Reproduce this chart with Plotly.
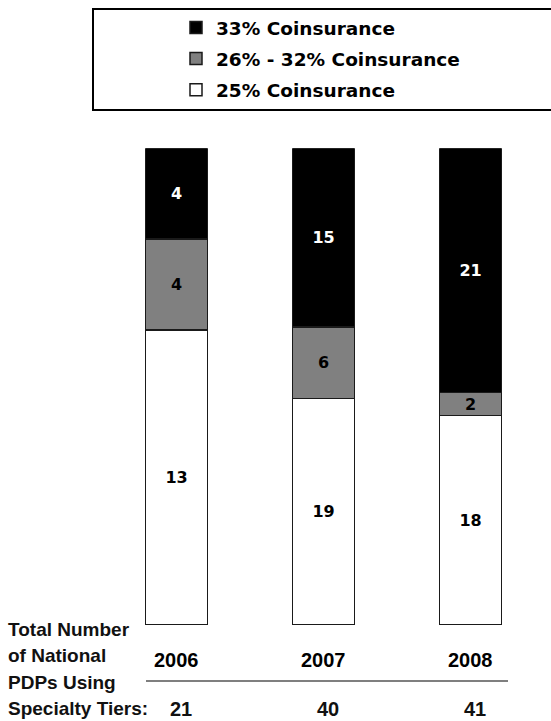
import plotly.graph_objects as go

years = ["2006", "2007", "2008"]
totals = [21, 40, 41]
series_names = ["25% Coinsurance", "26% - 32% Coinsurance", "33% Coinsurance"]
counts_25 = [13, 19, 18]
counts_26_32 = [4, 6, 2]
counts_33 = [4, 15, 21]
row_label_lines = ["Total Number", "of National", "PDPs Using", "Specialty Tiers:"]

W, H = 551, 721

def py(px):
    return (H - px) / H

def pxx(px):
    return px / W

series_counts = [counts_25, counts_26_32, counts_33]
fills = ["#ffffff", "#808080", "#000000"]
text_colors = ["#000000", "#000000", "#ffffff"]
ranks = [3, 2, 1]

fig = go.Figure()
for name, cnts, fill, tc, rk in zip(series_names, series_counts, fills, text_colors, ranks):
    shares = [c / t for c, t in zip(cnts, totals)]
    fig.add_trace(go.Bar(
        x=list(range(len(years))), y=shares, name=name, customdata=cnts,
        texttemplate="%{customdata}", textposition="inside",
        insidetextanchor="middle", textangle=0,
        textfont=dict(family="DejaVu Sans", size=16, color=tc, weight="bold"),
        marker=dict(color=fill, line=dict(color="#1a1a1a", width=1.5)),
        width=0.42, legendgroup=name, legendrank=rk, hoverinfo="skip",
    ))

annotations = []
for i, (yr, tot) in enumerate(zip(years, totals)):
    annotations.append(dict(x=i, y=py(660), xref="x", yref="paper", text=yr,
                            xanchor="center", yanchor="middle", showarrow=False,
                            font=dict(family="Liberation Sans", size=20, color="#000", weight="bold")))
    annotations.append(dict(x=i, y=py(709), xref="x", yref="paper", text=str(tot),
                            xanchor="center", yanchor="middle", showarrow=False, xshift=4,
                            font=dict(family="Liberation Sans", size=20, color="#111", weight="bold")))
for i, line in enumerate(row_label_lines):
    annotations.append(dict(x=pxx(6), y=py(629.5 + i * 26.3), xref="paper", yref="paper", text=line,
                            xanchor="left", yanchor="middle", showarrow=False,
                            font=dict(family="Liberation Sans", size=19,
                                      color="#111", weight="bold")))

shapes = [
    dict(type="rect", xref="paper", yref="paper", x0=pxx(93), x1=pxx(560), y0=py(110), y1=py(9),
         line=dict(color="#000", width=2)),
    dict(type="line", xref="paper", yref="paper", x0=pxx(146), x1=pxx(508), y0=py(681), y1=py(681),
         line=dict(color="#555", width=1.5)),
]

fig.update_layout(
    width=W, height=H, barmode="stack",
    margin=dict(l=0, r=0, t=0, b=0),
    paper_bgcolor="white", plot_bgcolor="white",
    xaxis=dict(domain=[0, 1], range=[-176.5 / 147, (W - 176.5) / 147], showticklabels=False,
               showgrid=False, zeroline=False, showline=False, ticks=""),
    yaxis=dict(domain=[py(625), py(148.3)], range=[0, 1], showticklabels=False,
               showgrid=False, zeroline=False, showline=False, ticks=""),
    uniformtext=dict(minsize=16, mode="show"),
    showlegend=True,
    legend=dict(x=pxx(176), y=py(9), xanchor="left", yanchor="top", traceorder="grouped",
                tracegroupgap=4, bgcolor="rgba(0,0,0,0)", borderwidth=0, itemwidth=30,
                font=dict(family="DejaVu Sans", size=18.5, color="#000", weight="bold")),
    annotations=annotations, shapes=shapes,
)

fig.write_html("out.html")
